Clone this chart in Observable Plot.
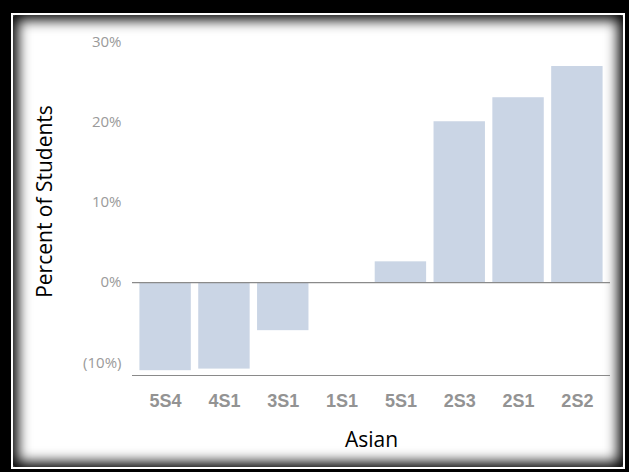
<!DOCTYPE html>
<html>
<head>
<meta charset="utf-8">
<script src="https://cdn.jsdelivr.net/npm/d3@7"></script>
<script src="https://cdn.jsdelivr.net/npm/@observablehq/plot@0.6"></script>
<style>
  html, body { margin: 0; padding: 0; background: #000; }
  #wrap { position: relative; width: 629px; height: 472px; background: #000; overflow: hidden; }
  #line { position: absolute; left: 11px; top: 13px; width: 614px; height: 456px; box-sizing: border-box; border: 2px solid #fff; }
  #panel { position: absolute; left: 13px; top: 15px; width: 610px; height: 452px; background: #fff;
           box-shadow: inset 0 0 13px 5px #000; border-radius: 2px; }
  #chart { position: absolute; left: 0; top: 0; }
</style>
</head>
<body>
<div id="wrap">
  <div id="line"></div>
  <div id="panel"></div>
  <div id="chart"></div>
</div>
<script>
const categories = ["5S4", "4S1", "3S1", "1S1", "5S1", "2S3", "2S1", "2S2"];
const values = [-11.0, -10.8, -6.0, 0, 2.6, 20.1, 23.1, 27.0];
const yTicks = [-10, 0, 10, 20, 30];
const yTitle = "Percent of Students";
const xTitle = "Asian";

const data = categories.map((c, i) => ({cat: c, value: values[i]}));
const fmt = d => d < 0 ? `(${-d}%)` : `${d}%`;

const chart = Plot.plot({
  width: 629,
  height: 472,
  marginLeft: 132,
  marginRight: 19,
  marginTop: 42,
  marginBottom: 97,
  style: {background: "transparent", overflow: "visible"},
  x: {domain: categories, padding: 0.126, round: false},
  y: {domain: [-11.6, 30]},
  marks: [
    Plot.barY(data, {x: "cat", y: "value", fill: "#cad5e5"}),
    Plot.ruleY([0], {stroke: "#8a8a8a", strokeWidth: 1.2}),
    Plot.ruleY([-11.6], {stroke: "#8a8a8a", strokeWidth: 1.2}),
    Plot.axisY({ticks: yTicks, tickFormat: fmt, tickSize: 0, tickPadding: 11, label: null,
                fontSize: 15, fontFamily: "Open Sans", fill: "#9a9a9a"}),
    Plot.axisX({tickSize: 0, tickPadding: 19, label: null,
                fontSize: 18, fontFamily: "Liberation Sans", fontWeight: "bold", fill: "#939393"}),
    Plot.text([yTitle], {text: d => d, frameAnchor: "left", rotate: -90, dx: -87, dy: -7.5,
                         textAnchor: "middle", lineAnchor: "middle",
                         fontSize: 21, fontFamily: "Open Sans", fill: "#000"}),
    Plot.text([xTitle], {text: d => d, frameAnchor: "bottom", dy: 65,
                         lineAnchor: "middle", fontSize: 21, fontFamily: "Open Sans", fill: "#000"})
  ]
});
document.getElementById("chart").appendChild(chart);
</script>
</body>
</html>
